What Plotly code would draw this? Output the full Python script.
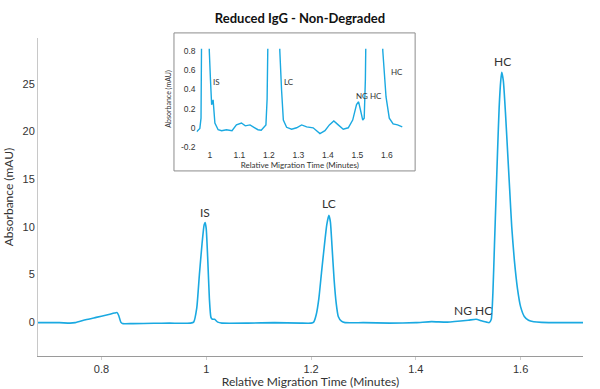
import plotly.graph_objects as go

# ---------------- data ----------------
time_min = [0.679, 0.70, 0.72, 0.74, 0.75, 0.77, 0.79, 0.81, 0.825, 0.830, 0.833, 0.837, 0.840,
            0.86, 0.90, 0.93, 0.95, 0.970, 0.976, 0.982, 0.987, 0.992, 0.996, 0.998, 1.000,
            1.003, 1.006, 1.009, 1.012, 1.016, 1.022, 1.03, 1.08, 1.13, 1.18, 1.200, 1.205,
            1.210, 1.215, 1.220, 1.225, 1.230, 1.234, 1.237, 1.240, 1.244, 1.248, 1.252,
            1.258, 1.265, 1.30, 1.35, 1.40, 1.43, 1.46, 1.50, 1.515, 1.525, 1.535, 1.540,
            1.544, 1.547, 1.550, 1.553, 1.556, 1.559, 1.562, 1.564, 1.567, 1.571, 1.575,
            1.579, 1.583, 1.588, 1.594, 1.600, 1.607, 1.615, 1.625, 1.64, 1.68, 1.719]
absorbance = [-0.05, -0.05, -0.05, -0.1, -0.05, 0.25, 0.5, 0.75, 0.95, 1.0, 0.7, 0.0, -0.15,
              -0.15, -0.12, -0.1, -0.12, -0.1, 0.0, 1.5, 5.0, 8.2, 10.2, 10.45, 9.8,
              6.5, 2.5, 0.5, 0.3, 0.3, 0.0, -0.1, -0.1, -0.05, -0.1, -0.1, 0.0,
              0.8, 2.5, 5.2, 7.8, 10.2, 11.2, 10.5, 8.0, 4.5, 2.0, 0.6,
              0.1, -0.05, -0.05, -0.1, -0.05, 0.05, 0.0, 0.2, 0.3, 0.15, 0.0, -0.05,
              0.3, 3.0, 8.0, 13.0, 18.0, 22.5, 25.3, 26.2, 25.3, 22.0, 18.0,
              14.0, 10.0, 6.5, 3.5, 1.6, 0.6, 0.2, 0.05, -0.02, -0.05, -0.05]

inset_time = [0.955, 0.962, 0.966, 0.970, 0.972, 0.978, 0.985, 0.993, 0.996, 0.998, 1.002,
              1.006, 1.011, 1.017, 1.028, 1.04, 1.056, 1.075, 1.09, 1.107, 1.12, 1.136,
              1.152, 1.163, 1.174, 1.190, 1.194, 1.198, 1.205, 1.217, 1.228, 1.234, 1.237,
              1.243, 1.249, 1.260, 1.277, 1.294, 1.311, 1.328, 1.350, 1.373, 1.390, 1.405,
              1.420, 1.435, 1.452, 1.469, 1.484, 1.497, 1.504, 1.510, 1.518, 1.523, 1.527,
              1.531, 1.540, 1.557, 1.574, 1.582, 1.586, 1.597, 1.608, 1.621, 1.636, 1.652]
inset_abs = [-0.04, -0.02, -0.006, 0.1, 1.0, 5.0, 10.3, 5.0, 1.5, 0.8, 0.5,
             0.24, 0.29, 0.05, -0.02, -0.03, -0.02, -0.03, 0.03, 0.05, 0.02, 0.03,
             0.0, -0.02, -0.025, 0.03, 0.3, 1.2, 5.0, 11.1, 5.0, 1.5, 0.8,
             0.39, 0.08, 0.005, -0.015, 0.0, 0.03, 0.01, 0.0, -0.06, -0.03, 0.03,
             0.07, 0.03, -0.015, 0.0, 0.08, 0.24, 0.27, 0.19, 0.08, 0.1, 0.5,
             1.5, 8.0, 26.0, 8.0, 1.5, 0.8, 0.32, 0.1, 0.04, 0.03, 0.01]

main_labels = ["IS", "LC", "NG HC", "HC"]
main_label_x = [0.998, 1.235, 1.51, 1.566]
main_label_y = [11.5, 12.4, 1.2, 27.3]

inset_labels = ["IS", "LC", "NG HC", "HC"]
inset_label_x = [1.005, 1.243, 1.488, 1.607]
inset_label_y = [0.48, 0.48, 0.33, 0.575]

x_ticks = [0.8, 1.0, 1.2, 1.4, 1.6]
x_tick_text = ["0.8", "1", "1.2", "1.4", "1.6"]
y_ticks = [0, 5, 10, 15, 20, 25]
inset_x_ticks = [1.0, 1.1, 1.2, 1.3, 1.4, 1.5, 1.6]
inset_x_text = ["1", "1.1", "1.2", "1.3", "1.4", "1.5", "1.6"]
inset_y_ticks = [-0.2, 0, 0.2, 0.4, 0.6, 0.8]
inset_y_text = ["-0.2", "0", "0.2", "0.4", "0.6", "0.8"]

LINE = "#1aa9e1"
TXT = "#333333"

fig = go.Figure()
fig.add_trace(go.Scatter(x=time_min, y=absorbance, mode="lines",
                         line=dict(color=LINE, width=1.6, shape="spline", smoothing=0.5),
                         hoverinfo="skip", showlegend=False))
fig.add_trace(go.Scatter(x=inset_time, y=inset_abs, mode="lines", xaxis="x2", yaxis="y2",
                         line=dict(color=LINE, width=1.4),
                         hoverinfo="skip", showlegend=False, cliponaxis=True))

ann = []
for t, xx, yy in zip(main_labels, main_label_x, main_label_y):
    ann.append(dict(x=xx, y=yy, xref="x", yref="y", text=t, showarrow=False,
                    font=dict(family="Lato", size=12, color=TXT), yanchor="middle"))
for t, xx, yy in zip(inset_labels, inset_label_x, inset_label_y):
    ann.append(dict(x=xx, y=yy, xref="x2", yref="y2", text=t, showarrow=False,
                    xanchor="left", font=dict(family="Lato", size=8, color=TXT)))

fig.update_layout(
    width=600, height=389,
    margin=dict(l=38, r=17, t=38, b=33, autoexpand=False),
    paper_bgcolor="white", plot_bgcolor="rgba(0,0,0,0)",
    title=dict(text="<b>Reduced IgG - Non-Degraded</b>", x=0.5, xanchor="center",
               y=0.952, yanchor="middle", font=dict(family="Lato", size=13, color="#111")),
    xaxis=dict(range=[0.679, 1.719], tickvals=x_ticks, ticktext=x_tick_text, automargin=False,
               showgrid=False, zeroline=False, showline=True, linecolor="#9a9a9a",
               ticks="outside", ticklen=3, tickcolor="#cccccc",
               tickfont=dict(family="Liberation Sans", size=11, color=TXT),
               title=dict(text="Relative Migration Time (Minutes)", standoff=4,
                          font=dict(family="Lato", size=12, color=TXT))),
    yaxis=dict(range=[-3.55, 29.8], tickvals=y_ticks, automargin=False,
               showgrid=False, zeroline=False, showline=True, linecolor="#c8c8c8",
               ticks="", tickfont=dict(family="Liberation Sans", size=11, color=TXT),
               title=dict(text="Absorbance (mAU)", standoff=6,
                          font=dict(family="Lato", size=12, color=TXT))),
    xaxis2=dict(domain=[0.291, 0.670], anchor="y2", range=[0.955, 1.655], automargin=False,
                tickvals=inset_x_ticks, ticktext=inset_x_text,
                showgrid=False, zeroline=False, showline=False, ticks="",
                tickfont=dict(family="Liberation Sans", size=8.5, color=TXT),
                title=dict(text="Relative Migration Time (Minutes)", standoff=2,
                           font=dict(family="Lato", size=8, color=TXT))),
    yaxis2=dict(domain=[0.651, 0.966], anchor="x2", range=[-0.22, 0.82], automargin=False,
                tickvals=inset_y_ticks, ticktext=inset_y_text,
                showgrid=False, zeroline=False, showline=False, ticks="",
                tickfont=dict(family="Liberation Sans", size=8.5, color=TXT),
                title=dict(text="Absorbance (mAU)", standoff=8,
                           font=dict(family="Lato", size=7, color=TXT))),
    shapes=[dict(type="rect", xref="paper", yref="paper", x0=0.2495, x1=0.692,
                 y0=0.582, y1=1.016, line=dict(color="#8c8c8c", width=1),
                 fillcolor="white", layer="below")],
    annotations=ann,
)

fig.write_html("out.html", config={"displayModeBar": False},
               post_script="document.body.style.margin='0';")
